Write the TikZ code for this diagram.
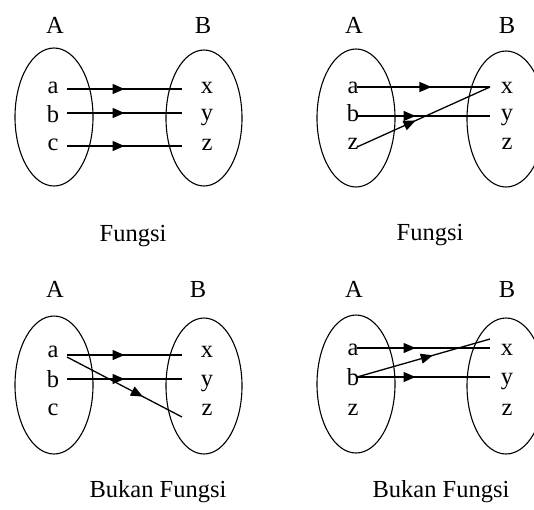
\documentclass[tikz,border=0pt]{standalone}
\usepackage{fontspec}
\setmainfont{Liberation Serif}
\usetikzlibrary{decorations.markings,arrows.meta}
\tikzset{
  lbl/.style={anchor=base,inner sep=0pt,font=\fontsize{24.5}{28}\selectfont},
  setov/.style={draw=black,line width=1.1pt},
  conn/.style={draw=black,line width=1.3pt,postaction={decorate},
    decoration={markings,mark=at position #1 with {\arrow{Triangle[length=12pt,width=10pt]}}}}
}
\begin{document}
\begin{tikzpicture}[x=1pt,y=-1pt]
\clip (0,0) rectangle (534,509);
\useasboundingbox (0,0) rectangle (534,509);
% ---------- Panel 1 ----------
\node[lbl] (A1) at (55,33) {A};
\node[lbl] (B1) at (203,33) {B};
\draw[setov] (54,117) ellipse [x radius=39,y radius=69];
\draw[setov] (204,118) ellipse [x radius=38,y radius=68];
\node[lbl] (a1) at (53,93) {a};
\node[lbl] (b1) at (53,122) {b};
\node[lbl] (c1) at (53,150) {c};
\node[lbl] (x1) at (207,93) {x};
\node[lbl] (y1) at (207,120) {y};
\node[lbl] (z1) at (207,150) {z};
\coordinate (s1a) at (67,89);  \coordinate (e1x) at (182,89);
\coordinate (s1b) at (67,113); \coordinate (e1y) at (182,113);
\coordinate (s1c) at (67,146); \coordinate (e1z) at (182,146);
\draw[conn=0.5] (s1a) -- (e1x);
\draw[conn=0.5] (s1b) -- (e1y);
\draw[conn=0.5] (s1c) -- (e1z);
\node[lbl] (F1) at (133,241) {Fungsi};
% ---------- Panel 2 ----------
\node[lbl] (A2) at (354,33) {A};
\node[lbl] (B2) at (507,33) {B};
\draw[setov] (356,118) ellipse [x radius=39,y radius=69];
\draw[setov] (506,119) ellipse [x radius=39,y radius=68];
\node[lbl] (a2) at (353,93) {a};
\node[lbl] (b2) at (353,121) {b};
\node[lbl] (c2) at (353,149) {z};
\node[lbl] (x2) at (507,93) {x};
\node[lbl] (y2) at (507,120) {y};
\node[lbl] (z2) at (507,149) {z};
\coordinate (s2a) at (357,87);  \coordinate (e2x) at (490,87);
\coordinate (s2b) at (357,116); \coordinate (e2y) at (490,116);
\coordinate (s2c) at (357,147);
\draw[conn=0.56] (s2a) -- (e2x);
\draw[conn=0.44] (s2b) -- (e2y);
\draw[conn=0.44] (s2c) -- (e2x);
\node[lbl] (F2) at (430,240) {Fungsi};
% ---------- Panel 3 ----------
\node[lbl] (A3) at (55,297) {A};
\node[lbl] (B3) at (198,297) {B};
\draw[setov] (54,385) ellipse [x radius=39,y radius=69];
\draw[setov] (204,386) ellipse [x radius=38,y radius=68];
\node[lbl] (a3) at (53,357) {a};
\node[lbl] (b3) at (53,387) {b};
\node[lbl] (c3) at (53,415) {c};
\node[lbl] (x3) at (207,357) {x};
\node[lbl] (y3) at (207,386) {y};
\node[lbl] (z3) at (207,415) {z};
\coordinate (s3a) at (67,355);  \coordinate (e3x) at (182,355);
\coordinate (s3b) at (67,379);  \coordinate (e3y) at (182,379);
\coordinate (s3a2) at (67,357); \coordinate (e3z) at (182,417);
\draw[conn=0.5] (s3a) -- (e3x);
\draw[conn=0.5] (s3b) -- (e3y);
\draw[conn=0.66] (s3a2) -- (e3z);
\node[lbl] (F3) at (158,497) {Bukan Fungsi};
% ---------- Panel 4 ----------
\node[lbl] (A4) at (354,297) {A};
\node[lbl] (B4) at (507,297) {B};
\draw[setov] (356,384) ellipse [x radius=39,y radius=69];
\draw[setov] (506,386) ellipse [x radius=39,y radius=68];
\node[lbl] (a4) at (353,355) {a};
\node[lbl] (b4) at (353,385) {b};
\node[lbl] (c4) at (353,415) {z};
\node[lbl] (x4) at (507,355) {x};
\node[lbl] (y4) at (507,384) {y};
\node[lbl] (z4) at (507,415) {z};
\coordinate (s4a) at (357,348); \coordinate (e4x) at (490,348);
\coordinate (s4b) at (357,377); \coordinate (e4y) at (490,377);
\coordinate (e4x2) at (490,339);
\draw[conn=0.44] (s4a) -- (e4x);
\draw[conn=0.44] (s4b) -- (e4y);
\draw[conn=0.57] (s4b) -- (e4x2);
\node[lbl] (F4) at (441,497) {Bukan Fungsi};
\end{tikzpicture}
\end{document}
